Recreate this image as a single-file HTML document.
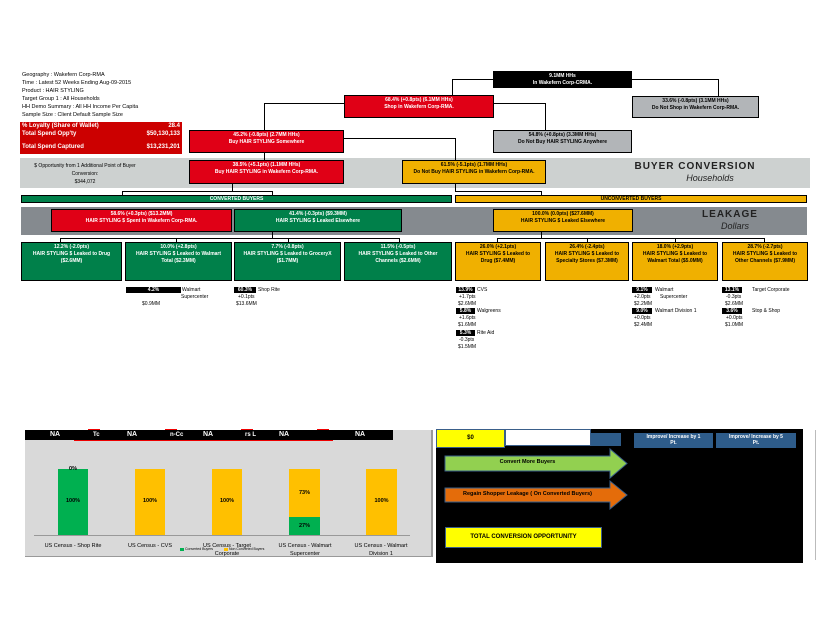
<!DOCTYPE html>
<html><head><meta charset="utf-8"><style>
*{margin:0;padding:0;box-sizing:border-box}
body{width:825px;height:638px;background:#fff;position:relative;overflow:hidden;font-family:"Liberation Sans",Arial,sans-serif;}
div{position:absolute}
.b{border:1px solid #000;font-size:5px;line-height:7px;text-align:center;padding-top:1px;font-weight:bold}
.w{color:#fff}
.red{background:#e00016}
.gr{background:#b2b5b8}
.or{background:#f0b000}
.gn{background:#00804a}
.h{background:#000;height:1px}
.v{background:#000;width:1px}
.t{font-size:5.5px;white-space:nowrap;line-height:7px}
.lb{background:#000;color:#fff;font-size:5px;font-weight:bold;text-align:center;height:6px;line-height:6px}
.s{font-size:5px;white-space:nowrap}
</style></head><body>

<div class="t" style="left:22px;top:72px">Geography : Wakefern Corp-RMA</div>
<div class="t" style="left:22px;top:80px">Time : Latest 52 Weeks Ending Aug-09-2015</div>
<div class="t" style="left:22px;top:88px">Product : HAIR STYLING</div>
<div class="t" style="left:22px;top:96px">Target Group 1 : All Households</div>
<div class="t" style="left:22px;top:104px">HH Demo Summary : All HH Income Per Capita</div>
<div class="t" style="left:22px;top:112px">Sample Size : Client Default Sample Size</div>
<div style="left:20px;top:122px;width:162px;height:32px;background:#cc0000;color:#fff;font-size:6px;font-weight:bold">
<div style="left:2px;top:1px">% Loyalty (Share of Wallet)</div><div style="right:2px;top:1px">28.4</div>
<div style="left:2px;top:9px">Total Spend Opp'ty</div><div style="right:2px;top:9px">$50,130,133</div>
<div style="left:2px;top:22px">Total Spend Captured</div><div style="right:2px;top:22px">$13,231,201</div>
</div>

<div style="left:20px;top:158px;width:790px;height:30px;background:#cdd1d0"></div>
<div class="s" style="left:30px;top:162px;width:110px;text-align:center;white-space:normal;line-height:8px">$ Opportunity from 1 Additional Point of Buyer Conversion:<br>$344,072</div>
<div style="left:600px;top:161px;width:190px;text-align:center;font-size:10px;font-weight:bold;letter-spacing:1px;color:#222">BUYER CONVERSION</div>
<div style="left:600px;top:173px;width:220px;text-align:center;font-size:9px;font-style:italic;color:#222">Households</div>

<div class="h" style="left:452px;top:79px;width:41px"></div>
<div class="v" style="left:452px;top:79px;height:16px"></div>
<div class="h" style="left:632px;top:79px;width:86px"></div>
<div class="v" style="left:718px;top:79px;height:17px"></div>
<div class="h" style="left:264px;top:103px;width:80px"></div>
<div class="v" style="left:264px;top:103px;height:27px"></div>
<div class="h" style="left:494px;top:103px;width:51px"></div>
<div class="v" style="left:545px;top:103px;height:27px"></div>
<div class="h" style="left:344px;top:138px;width:111px"></div>
<div class="v" style="left:455px;top:138px;height:22px"></div>
<div class="v" style="left:264px;top:153px;height:7px"></div>
<div class="v" style="left:232px;top:184px;height:7px"></div>
<div class="h" style="left:122px;top:191px;width:151px"></div>
<div class="v" style="left:122px;top:191px;height:4px"></div>
<div class="v" style="left:272px;top:191px;height:4px"></div>
<div class="v" style="left:455px;top:184px;height:7px"></div>
<div class="h" style="left:455px;top:191px;width:87px"></div>
<div class="v" style="left:541px;top:191px;height:4px"></div>

<div class="b w" style="left:493px;top:71px;width:139px;height:17px;background:#000">9.1MM HHs<br>In Wakefern Corp-CRMA.</div>
<div class="b w red" style="left:344px;top:95px;width:150px;height:23px">68.4% (+0.8pts) (6.1MM HHs)<br>Shop in Wakefern Corp-RMA.</div>
<div class="b gr" style="left:632px;top:96px;width:127px;height:22px">33.6% (-0.8pts) (3.1MM HHs)<br>Do Not Shop in Wakefern Corp-RMA.</div>
<div class="b w red" style="left:189px;top:130px;width:155px;height:23px">45.2% (-0.8pts) (2.7MM HHs)<br>Buy HAIR STYLING Somewhere</div>
<div class="b gr" style="left:493px;top:130px;width:139px;height:23px">54.8% (+0.8pts) (3.3MM HHs)<br>Do Not Buy HAIR STYLING Anywhere</div>
<div class="b w red" style="left:189px;top:160px;width:155px;height:24px">38.5% (+5.1pts) (1.1MM HHs)<br>Buy HAIR STYLING in Wakefern Corp-RMA.</div>
<div class="b or" style="left:402px;top:160px;width:144px;height:24px">61.5% (-5.1pts) (1.7MM HHs)<br>Do Not Buy HAIR STYLING in Wakefern Corp-RMA.</div>

<div class="b w gn" style="left:21px;top:195px;width:431px;height:8px;line-height:6px;padding:0">CONVERTED BUYERS</div>
<div class="b or" style="left:455px;top:195px;width:352px;height:8px;line-height:6px;padding:0">UNCONVERTED BUYERS</div>

<div style="left:21px;top:207px;width:786px;height:28px;background:#858a8f"></div>
<div style="left:650px;top:209px;width:160px;text-align:center;font-size:10px;font-weight:bold;letter-spacing:1px;color:#222">LEAKAGE</div>
<div style="left:650px;top:221px;width:170px;text-align:center;font-size:9px;font-style:italic;color:#222">Dollars</div>
<div class="b w red" style="left:51px;top:209px;width:181px;height:23px">58.6% (+0.3pts) ($13.2MM)<br>HAIR STYLING $ Spent in Wakefern Corp-RMA.</div>
<div class="b w gn" style="left:234px;top:209px;width:168px;height:23px">41.4% (-0.3pts) ($9.3MM)<br>HAIR STYLING $ Leaked Elsewhere</div>
<div class="b or" style="left:493px;top:209px;width:140px;height:23px">100.0% (0.0pts) ($27.6MM)<br>HAIR STYLING $ Leaked Elsewhere</div>

<div class="v" style="left:272px;top:232px;height:6px"></div>
<div class="h" style="left:60px;top:238px;width:340px"></div>
<div class="v" style="left:60px;top:238px;height:4px"></div>
<div class="v" style="left:176px;top:238px;height:4px"></div>
<div class="v" style="left:288px;top:238px;height:4px"></div>
<div class="v" style="left:399px;top:238px;height:4px"></div>
<div class="v" style="left:541px;top:232px;height:6px"></div>
<div class="h" style="left:497px;top:238px;width:268px"></div>
<div class="v" style="left:497px;top:238px;height:4px"></div>
<div class="v" style="left:587px;top:238px;height:4px"></div>
<div class="v" style="left:675px;top:238px;height:4px"></div>
<div class="v" style="left:764px;top:238px;height:4px"></div>

<div class="b w gn" style="left:21px;top:242px;width:101px;height:39px">12.2% (-2.0pts)<br>HAIR STYLING $ Leaked to Drug<br>($2.6MM)</div>
<div class="b w gn" style="left:125px;top:242px;width:107px;height:39px">10.0% (+2.8pts)<br>HAIR STYLING $ Leaked to Walmart<br>Total ($2.3MM)</div>
<div class="b w gn" style="left:234px;top:242px;width:107px;height:39px">7.7% (-0.8pts)<br>HAIR STYLING $ Leaked to GroceryX<br>($1.7MM)</div>
<div class="b w gn" style="left:344px;top:242px;width:108px;height:39px">11.5% (-0.5pts)<br>HAIR STYLING $ Leaked to Other<br>Channels ($2.6MM)</div>
<div class="b or" style="left:455px;top:242px;width:86px;height:39px">26.0% (+2.1pts)<br>HAIR STYLING $ Leaked to<br>Drug ($7.4MM)</div>
<div class="b or" style="left:545px;top:242px;width:84px;height:39px">26.4% (-2.4pts)<br>HAIR STYLING $ Leaked to<br>Specialty Stores ($7.3MM)</div>
<div class="b or" style="left:632px;top:242px;width:86px;height:39px">18.0% (+2.9pts)<br>HAIR STYLING $ Leaked to<br>Walmart Total ($5.0MM)</div>
<div class="b or" style="left:722px;top:242px;width:86px;height:39px">28.7% (-2.7pts)<br>HAIR STYLING $ Leaked to<br>Other Channels ($7.9MM)</div>

<div class="lb" style="left:126px;top:287px;width:55px">4.2%</div>
<div class="s" style="left:182px;top:287px">Walmart</div>
<div class="s" style="left:181px;top:294px">Supercenter</div>
<div class="s" style="left:142px;top:301px">$0.9MM</div>
<div class="lb" style="left:234px;top:287px;width:22px">60.3%</div>
<div class="s" style="left:258px;top:287px">Shop Rite</div>
<div class="s" style="left:238px;top:294px">+0.1pts</div>
<div class="s" style="left:236px;top:301px">$13.6MM</div>

<div class="lb" style="left:456px;top:287px;width:19px">13.9%</div>
<div class="s" style="left:477px;top:287px">CVS</div>
<div class="s" style="left:459px;top:294px">+1.7pts</div>
<div class="s" style="left:458px;top:301px">$2.6MM</div>
<div class="lb" style="left:456px;top:308px;width:19px">5.8%</div>
<div class="s" style="left:477px;top:308px">Walgreens</div>
<div class="s" style="left:459px;top:315px">+1.6pts</div>
<div class="s" style="left:458px;top:322px">$1.6MM</div>
<div class="lb" style="left:456px;top:330px;width:19px">5.3%</div>
<div class="s" style="left:477px;top:330px">Rite Aid</div>
<div class="s" style="left:459px;top:337px">-0.3pts</div>
<div class="s" style="left:458px;top:344px">$1.5MM</div>

<div class="lb" style="left:632px;top:287px;width:20px">9.1%</div>
<div class="s" style="left:655px;top:287px">Walmart</div>
<div class="s" style="left:634px;top:294px">+2.0pts</div>
<div class="s" style="left:660px;top:294px">Supercenter</div>
<div class="s" style="left:634px;top:301px">$2.2MM</div>
<div class="lb" style="left:632px;top:308px;width:20px">9.0%</div>
<div class="s" style="left:655px;top:308px">Walmart Division 1</div>
<div class="s" style="left:634px;top:315px">+0.0pts</div>
<div class="s" style="left:634px;top:322px">$2.4MM</div>

<div class="lb" style="left:722px;top:287px;width:20px">13.1%</div>
<div class="s" style="left:752px;top:287px">Target Corporate</div>
<div class="s" style="left:726px;top:294px">-0.3pts</div>
<div class="s" style="left:725px;top:301px">$2.6MM</div>
<div class="lb" style="left:722px;top:308px;width:20px">3.6%</div>
<div class="s" style="left:752px;top:308px">Stop &amp; Shop</div>
<div class="s" style="left:726px;top:315px">+0.0pts</div>
<div class="s" style="left:725px;top:322px">$1.0MM</div>

<div style="left:25px;top:430px;width:407px;height:127px;background:#d9d9d9;border-right:1px solid #999;border-bottom:1px solid #999"></div>
<div style="left:25px;top:430px;width:368px;height:10px;background:#000"></div>
<div style="left:74px;top:440px;width:259px;height:1px;background:#e00"></div>
<div style="left:88px;top:429px;width:12px;height:1px;background:#e00"></div>
<div style="left:165px;top:429px;width:12px;height:1px;background:#e00"></div>
<div style="left:241px;top:429px;width:12px;height:1px;background:#e00"></div>
<div style="left:317px;top:429px;width:12px;height:1px;background:#e00"></div>
<div style="left:25px;top:430px;width:368px;height:10px;color:#fff;font-size:7px;font-weight:bold;line-height:10px">
<div style="left:25px">NA</div><div style="left:68px;font-size:6px">Tc</div>
<div style="left:102px">NA</div><div style="left:145px;font-size:6px">n-Cc</div>
<div style="left:178px">NA</div><div style="left:220px;font-size:6px">rs L</div>
<div style="left:254px">NA</div>
<div style="left:330px">NA</div>
</div>
<div style="left:34px;top:535px;width:376px;height:1px;background:#999"></div>
<div style="left:58px;top:469px;width:30px;height:66px;background:#00b050"></div>
<div style="left:135px;top:469px;width:30px;height:66px;background:#ffc000"></div>
<div style="left:212px;top:469px;width:30px;height:66px;background:#ffc000"></div>
<div style="left:289px;top:469px;width:31px;height:48px;background:#ffc000"></div>
<div style="left:289px;top:517px;width:31px;height:18px;background:#00b050"></div>
<div style="left:366px;top:469px;width:31px;height:66px;background:#ffc000"></div>
<div style="font-size:5.5px;font-weight:bold;left:58px;top:466px;width:30px;text-align:center">0%</div>
<div style="font-size:5.5px;font-weight:bold;left:58px;top:498px;width:30px;text-align:center">100%</div>
<div style="font-size:5.5px;font-weight:bold;left:135px;top:498px;width:30px;text-align:center">100%</div>
<div style="font-size:5.5px;font-weight:bold;left:212px;top:498px;width:30px;text-align:center">100%</div>
<div style="font-size:5.5px;font-weight:bold;left:289px;top:490px;width:31px;text-align:center">73%</div>
<div style="font-size:5.5px;font-weight:bold;left:289px;top:523px;width:31px;text-align:center">27%</div>
<div style="font-size:5.5px;font-weight:bold;left:366px;top:498px;width:31px;text-align:center">100%</div>
<div style="font-size:5.5px;left:33px;top:542px;width:80px;text-align:center;line-height:8px">US Census - Shop Rite</div>
<div style="font-size:5.5px;left:110px;top:542px;width:80px;text-align:center;line-height:8px">US Census - CVS</div>
<div style="font-size:5.5px;left:187px;top:542px;width:80px;text-align:center;line-height:8px">US Census - Target<br>Corporate</div>
<div style="font-size:5.5px;left:265px;top:542px;width:80px;text-align:center;line-height:8px">US Census - Walmart<br>Supercenter</div>
<div style="font-size:5.5px;left:341px;top:542px;width:80px;text-align:center;line-height:8px">US Census - Walmart<br>Division 1</div>
<div style="left:180px;top:548px;width:4px;height:3px;background:#00b050"></div>
<div style="font-size:3.5px;left:185px;top:547px;white-space:nowrap">Converted Buyers</div>
<div style="left:224px;top:548px;width:4px;height:3px;background:#ffc000"></div>
<div style="font-size:3.5px;left:229px;top:547px;white-space:nowrap">Non Converted Buyers</div>

<div style="left:436px;top:429px;width:367px;height:134px;background:#000"></div>
<div style="left:815px;top:430px;width:1px;height:130px;background:#bbb"></div>
<div style="left:432px;top:430px;width:1px;height:127px;background:#999"></div>
<div style="left:436px;top:429px;width:69px;height:19px;background:#ffff00;border:1px solid #3a5f8a;font-size:6px;font-weight:bold;text-align:center;line-height:16px">$0</div>
<div style="left:505px;top:429px;width:86px;height:17px;background:#fff;border:1px solid #3a5f8a"></div>
<div style="left:591px;top:433px;width:30px;height:13px;background:#2e5c8a"></div>
<div style="left:634px;top:433px;width:79px;height:15px;background:#2e5c8a;color:#fff;font-size:5px;font-weight:bold;text-align:center;line-height:6px;padding-top:1px">Improve/ Increase by 1<br>Pt.</div>
<div style="left:716px;top:433px;width:80px;height:15px;background:#2e5c8a;color:#fff;font-size:5px;font-weight:bold;text-align:center;line-height:6px;padding-top:1px">Improve/ Increase by 5<br>Pt.</div>
<svg style="position:absolute;left:0;top:0" width="825" height="638">
<polygon points="445,456 610,456 610,449 627,463.5 610,478 610,471 445,471" fill="#92d050" stroke="#3a5f8a" stroke-width="1"/>
<polygon points="445,488 610,488 610,481 627,495 610,509 610,502 445,502" fill="#e46c0a" stroke="#3a5f8a" stroke-width="1"/>
</svg>
<div style="left:445px;top:459px;width:165px;text-align:center;font-size:5.5px;font-weight:bold">Convert More Buyers</div>
<div style="left:445px;top:491px;width:165px;text-align:center;font-size:5.5px;font-weight:bold">Regain Shopper Leakage ( On Converted Buyers)</div>
<div style="left:445px;top:527px;width:157px;height:21px;background:#ffff00;border:1px solid #3a5f8a;font-size:6px;font-weight:bold;text-align:center;line-height:19px">TOTAL CONVERSION OPPORTUNITY</div>

</body></html>
